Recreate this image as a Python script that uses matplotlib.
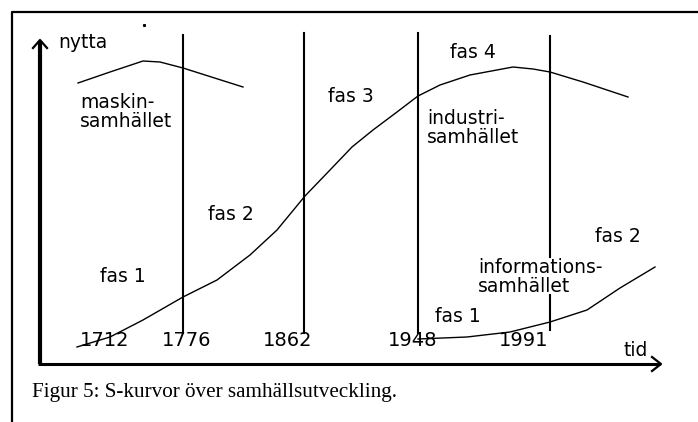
import matplotlib
matplotlib.use("Agg")
import matplotlib.pyplot as plt

# diagram is drawn in pixel units of the original picture (x right, y down)
years = ["1712", "1776", "1862", "1948", "1991"]
year_label_x = [105, 187, 288, 413, 524]
phase_line_x = [183, 304, 418, 550]
phase_line_top = [35, 33, 33, 36]
phase_line_bottom = [333, 333, 333, 330]

maskin_x = [78, 110, 143, 160, 183, 243]
maskin_y = [83, 72, 61, 62, 68, 87]

industri_x = [77, 110, 143, 183, 217, 250, 277, 305, 330, 352, 373, 397,
              418, 440, 470, 513, 533, 550, 583, 628]
industri_y = [347, 337, 320, 297, 280, 255, 230, 196, 170, 147, 130, 112,
              96, 85, 75, 67, 69, 72, 82, 97]

info_x = [418, 467, 510, 550, 587, 620, 655]
info_y = [339, 337, 332, 322, 310, 288, 267]

labels = ["nytta", "tid", "maskin-\nsamhället", "industri-\nsamhället",
          "informations-\nsamhället", "fas 1", "fas 2", "fas 3", "fas 4",
          "fas 1", "fas 2"]
label_x = [58, 623, 80, 427, 478, 100, 208, 328, 450, 435, 595]
label_y = [42, 350, 112, 128, 277, 276, 214, 96, 52, 317, 236]

caption = "Figur 5: S-kurvor över samhällsutveckling."


def main():
    fig = plt.figure(figsize=(6.98, 4.22), dpi=100)
    ax = fig.add_axes([0, 0, 1, 1])
    ax.set_xlim(0, 698)
    ax.set_ylim(422, 0)
    ax.axis("off")

    # outer frame
    ax.plot([12, 12, 700], [430, 12, 12], color="black", lw=1.6, solid_capstyle="butt")

    # axes with arrows
    ax.plot([40, 40], [41, 364], color="black", lw=3.0, solid_capstyle="butt")
    ax.plot([33, 40, 47], [48, 40, 48], color="black", lw=1.6)
    ax.plot([38, 660], [364, 364], color="black", lw=2.2, solid_capstyle="butt")
    ax.plot([652, 661, 652], [357, 364, 371], color="black", lw=1.6)
    ax.plot([144], [25], marker="s", ms=1.2, color="black")

    # phase separators
    for i in range(len(phase_line_x)):
        if i == 3:
            ax.plot([phase_line_x[i]] * 2, [phase_line_top[i], 257], color="black", lw=1.5)
            ax.plot([phase_line_x[i]] * 2, [295, phase_line_bottom[i]], color="black", lw=1.5)
        else:
            ax.plot([phase_line_x[i]] * 2, [phase_line_top[i], phase_line_bottom[i]],
                    color="black", lw=1.5)

    # S-curves
    ax.plot(maskin_x, maskin_y, color="black", lw=1.0)
    ax.plot(industri_x, industri_y, color="black", lw=1.0)
    ax.plot(info_x, info_y, color="black", lw=1.0)

    for i in range(len(years)):
        ax.text(year_label_x[i], 341, years[i], ha="center", va="center",
                fontsize=14, family="DejaVu Sans", zorder=0)

    for i in range(len(labels)):
        ax.text(label_x[i], label_y[i], labels[i], ha="left", va="center",
                fontsize=13.5, family="DejaVu Sans", linespacing=1.0)

    ax.text(32, 392, caption, ha="left", va="center", fontsize=15.2,
            family="Liberation Serif")

    fig.savefig("out.png", dpi=100)


if __name__ == "__main__":
    main()
